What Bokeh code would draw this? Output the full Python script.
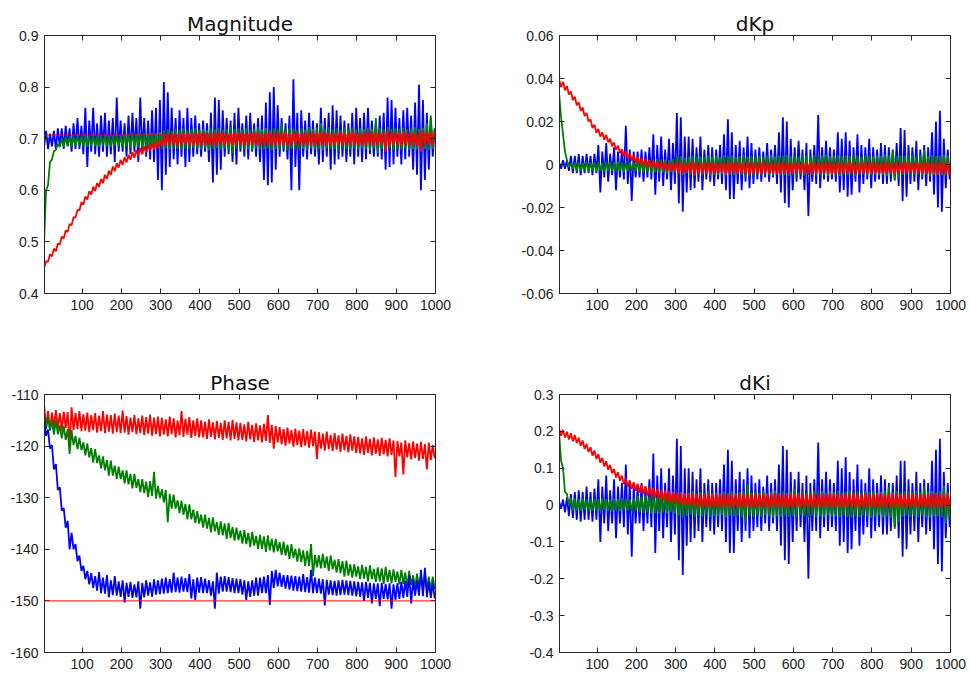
import numpy as np
from bokeh.plotting import figure
from bokeh.layouts import column, row
from bokeh.models import Range1d, FixedTicker, CustomJSTickFormatter, LinearAxis, Span
from bokeh.embed import file_html
from bokeh.resources import INLINE

# Each series is read off the picture as the two extreme values inside each
# window of 10 samples (100 windows spanning samples 0..1000).
WINDOW = 10
x_ticks = [100, 200, 300, 400, 500, 600, 700, 800, 900, 1000]

# ---------------- Magnitude ----------------
mag_blue_lo = [.685,.680,.685,.680,.685,.680,.685,.675,.680,.680,
               .670,.645,.675,.670,.665,.675,.665,.670,.655,.675,
               .675,.665,.670,.675,.655,.670,.665,.660,.655,.620,
               .600,.630,.645,.660,.650,.665,.645,.655,.665,.670,
               .665,.675,.655,.615,.630,.640,.665,.670,.655,.650,
               .675,.665,.660,.675,.665,.655,.620,.610,.615,.640,
               .665,.675,.660,.600,.645,.600,.665,.660,.670,.665,
               .650,.655,.665,.640,.650,.660,.665,.655,.665,.650,
               .665,.655,.660,.670,.665,.665,.660,.640,.645,.650,
               .665,.650,.660,.665,.640,.630,.600,.620,.640,.665]
mag_blue_hi = [.715,.710,.715,.720,.720,.725,.720,.730,.740,.725,
               .760,.735,.760,.730,.745,.750,.735,.740,.780,.735,
               .730,.745,.750,.740,.780,.740,.735,.755,.760,.775,
               .810,.790,.760,.740,.755,.740,.760,.740,.745,.730,
               .735,.730,.750,.780,.775,.755,.740,.735,.750,.760,
               .730,.745,.750,.730,.740,.745,.770,.790,.800,.765,
               .740,.730,.745,.815,.750,.755,.735,.750,.735,.730,
               .760,.740,.750,.765,.755,.745,.735,.730,.750,.760,
               .740,.750,.760,.735,.730,.745,.750,.780,.775,.760,
               .740,.755,.760,.745,.770,.805,.775,.750,.740,.720]
mag_green_lo = [.500,.610,.660,.678,.684,.685,.686,.684,.686,.685,
                .685,.684,.686,.685,.684,.686,.685,.684,.686,.685,
                .683,.684,.682,.684,.683,.682,.684,.682,.683,.681,
                .680,.682,.679,.681,.680,.678,.681,.679,.682,.680,
                .679,.681,.678,.680,.682,.679,.681,.678,.672,.680,
                .681,.679,.680,.678,.681,.680,.679,.681,.678,.680,
                .679,.681,.678,.680,.679,.681,.680,.678,.681,.679,
                .680,.678,.681,.679,.680,.678,.681,.680,.679,.681,
                .679,.681,.680,.678,.681,.672,.680,.679,.681,.678,
                .680,.679,.681,.678,.680,.679,.681,.680,.678,.680]
mag_green_hi = [.600,.655,.676,.690,.700,.703,.705,.704,.706,.705,
                .706,.705,.707,.705,.706,.707,.705,.706,.707,.706,
                .710,.709,.711,.710,.712,.711,.710,.712,.711,.713,
                .716,.718,.715,.719,.717,.720,.716,.718,.721,.717,
                .719,.716,.720,.718,.721,.717,.719,.722,.718,.720,
                .718,.721,.717,.719,.722,.718,.720,.717,.721,.719,
                .730,.718,.721,.719,.717,.720,.718,.722,.719,.721,
                .730,.719,.722,.718,.720,.717,.721,.719,.722,.718,
                .720,.718,.721,.719,.740,.720,.718,.722,.719,.721,
                .719,.721,.718,.720,.722,.719,.721,.730,.745,.720]
mag_red_lo = [.450,.462,.472,.482,.495,.507,.519,.532,.547,.561,
              .572,.582,.592,.599,.607,.614,.622,.630,.637,.644,
              .649,.654,.659,.663,.667,.670,.673,.676,.679,.682,
              .686,.688,.687,.689,.686,.688,.690,.687,.689,.686,
              .688,.687,.689,.686,.688,.690,.687,.689,.688,.686,
              .689,.687,.688,.690,.686,.688,.687,.689,.686,.688,
              .687,.689,.686,.688,.690,.687,.689,.686,.688,.687,
              .689,.686,.688,.687,.689,.688,.686,.690,.687,.689,
              .686,.688,.687,.689,.686,.688,.690,.675,.687,.689,
              .688,.686,.689,.687,.688,.686,.675,.689,.687,.688]
mag_red_hi = [.462,.476,.487,.497,.510,.522,.535,.548,.562,.577,
              .588,.598,.607,.614,.622,.630,.638,.646,.652,.659,
              .664,.669,.674,.678,.682,.685,.688,.691,.694,.697,
              .705,.708,.710,.707,.711,.709,.712,.708,.710,.713,
              .709,.711,.708,.712,.710,.713,.709,.711,.714,.710,
              .712,.709,.713,.710,.712,.708,.711,.713,.709,.712,
              .710,.713,.709,.711,.714,.710,.712,.709,.713,.711,
              .713,.710,.712,.709,.711,.714,.710,.712,.715,.711,
              .710,.712,.714,.711,.713,.710,.712,.715,.711,.713,
              .712,.714,.711,.713,.710,.712,.716,.711,.714,.712]
mag_reference = 0.707
mag_y_ticks = [0.4, 0.5, 0.6, 0.7, 0.8, 0.9]

# ---------------- Phase ----------------
phase_red_hi = [-112.0,-113.2,-113.5,-113.0,-113.6,-113.3,-113.4,-112.5,-113.6,-113.2,
                -113.8,-113.5,-114.0,-113.6,-114.1,-113.2,-113.9,-114.0,-113.7,-114.1,
                -113.1,-114.2,-114.5,-114.0,-114.6,-114.1,-114.4,-113.9,-114.5,-114.3,
                -114.5,-114.8,-114.3,-114.6,-115.0,-113.2,-114.7,-114.4,-115.0,-114.6,
                -115.0,-115.3,-114.8,-115.4,-115.1,-115.5,-115.0,-115.3,-114.9,-115.4,
                -115.5,-115.8,-115.3,-115.9,-115.6,-116.0,-115.7,-114.0,-115.9,-116.1,
                -116.3,-116.7,-116.4,-116.9,-116.6,-117.0,-116.7,-117.1,-116.8,-117.2,
                -117.3,-117.6,-117.2,-117.8,-117.5,-117.9,-117.6,-118.0,-117.7,-118.1,
                -118.2,-118.5,-118.1,-118.6,-118.3,-118.7,-118.4,-118.8,-118.5,-118.9,
                -119.0,-119.3,-118.9,-119.4,-119.1,-119.5,-119.2,-119.6,-119.3,-119.8]
phase_red_lo = [-116.3,-116.8,-116.5,-116.6,-117.0,-116.5,-120.0,-116.9,-116.7,-117.1,
                -117.0,-117.3,-116.9,-117.4,-117.1,-117.5,-117.2,-117.6,-117.3,-117.5,
                -117.4,-117.8,-117.3,-117.7,-117.5,-117.9,-117.6,-118.0,-117.7,-118.1,
                -117.8,-118.1,-117.7,-118.3,-117.9,-118.2,-117.8,-118.4,-118.0,-118.3,
                -118.3,-118.6,-118.2,-118.7,-118.4,-118.8,-118.5,-118.9,-118.6,-118.9,
                -118.8,-119.1,-118.7,-119.2,-118.9,-119.3,-119.0,-119.4,-120.5,-119.3,
                -119.6,-119.9,-119.5,-120.1,-119.8,-120.2,-119.9,-120.3,-120.0,-122.5,
                -120.5,-120.9,-120.6,-121.0,-120.7,-121.1,-120.8,-121.2,-120.9,-121.3,
                -121.4,-121.7,-121.3,-121.8,-121.5,-121.9,-121.6,-122.0,-121.7,-126.0,
                -122.0,-125.5,-122.2,-122.6,-122.3,-122.8,-122.5,-124.5,-122.7,-122.4]
phase_green_hi = [-114.2,-114.3,-115.0,-115.0,-116.0,-116.1,-116.7,-116.9,-118.0,-118.4,
                  -119.3,-119.5,-120.4,-120.6,-121.8,-122.0,-122.7,-122.8,-123.8,-124.0,
                  -124.7,-124.7,-125.4,-125.4,-126.4,-126.4,-126.9,-126.8,-125.0,-127.7,
                  -128.4,-128.5,-129.3,-129.4,-130.5,-130.6,-131.2,-131.3,-132.3,-132.6,
                  -133.3,-133.3,-133.9,-133.8,-134.7,-134.6,-135.0,-134.9,-135.7,-135.8,
                  -136.4,-136.3,-136.8,-136.6,-137.4,-137.2,-137.5,-137.3,-138.0,-138.0,
                  -138.6,-138.5,-139.1,-139.0,-139.9,-139.8,-140.2,-140.3,-139.0,-141.1,
                  -141.2,-140.9,-141.4,-141.2,-142.0,-141.9,-142.3,-142.2,-142.9,-142.9,
                  -143.3,-143.0,-143.4,-143.1,-143.8,-143.5,-143.7,-143.4,-144.0,-143.9,
                  -144.3,-144.0,-144.5,-144.2,-145.0,-144.7,-145.0,-144.7,-145.3,-145.3]
phase_green_lo = [-116.7,-117.0,-117.8,-117.7,-118.5,-118.8,-121.5,-119.8,-120.6,-120.8,
                  -121.8,-122.2,-123.2,-123.3,-124.3,-124.7,-125.7,-125.7,-126.4,-126.4,
                  -127.2,-127.4,-128.2,-128.1,-128.9,-129.1,-129.9,-129.7,-130.2,-130.1,
                  -130.9,-134.8,-132.1,-132.1,-133.0,-133.3,-134.2,-134.2,-134.9,-135.0,
                  -135.8,-136.0,-136.7,-136.5,-137.2,-137.3,-138.0,-137.8,-138.3,-138.2,
                  -138.9,-139.0,-139.6,-139.3,-139.9,-139.9,-140.5,-140.2,-140.6,-140.4,
                  -141.1,-141.2,-141.9,-141.7,-142.4,-142.5,-143.2,-143.2,-145.2,-143.5,
                  -143.7,-143.6,-144.2,-143.9,-144.5,-144.6,-145.3,-145.1,-145.5,-145.3,
                  -145.8,-145.7,-146.2,-145.8,-146.3,-146.2,-146.7,-146.3,-146.6,-146.3,
                  -146.8,-146.7,-147.3,-146.9,-147.5,-147.4,-148.0,-147.6,-147.9,-147.7]
phase_blue_hi = [-114.5,-116.8,-119.8,-123.5,-128.0,-132.0,-134.5,-136.8,-139.0,-141.2,
                 -143.2,-144.2,-144.6,-145.2,-144.4,-145.5,-145.0,-146.0,-145.2,-146.2,
                 -146.0,-146.5,-146.3,-146.8,-146.2,-146.5,-146.0,-146.4,-145.8,-146.0,
                 -145.7,-145.5,-145.8,-144.5,-145.5,-145.3,-145.6,-144.8,-145.8,-145.5,
                 -145.4,-145.7,-146.0,-146.2,-144.5,-145.3,-145.2,-145.4,-145.6,-145.7,
                 -145.8,-146.0,-146.2,-146.0,-145.5,-145.5,-145.3,-145.0,-144.2,-144.0,
                 -144.5,-145.0,-145.0,-145.1,-145.2,-145.3,-144.8,-145.4,-144.0,-145.5,
                 -145.7,-145.8,-145.9,-146.0,-146.1,-146.0,-145.9,-146.0,-146.1,-146.2,
                 -146.3,-146.4,-146.3,-146.5,-146.6,-146.6,-146.5,-146.7,-146.6,-146.8,
                 -146.6,-146.3,-146.1,-145.0,-145.9,-146.0,-144.0,-143.6,-146.3,-146.5]
phase_blue_lo = [-118.0,-120.5,-124.5,-128.5,-132.5,-135.8,-140.0,-140.0,-142.3,-144.2,
                 -145.8,-146.8,-147.5,-148.0,-148.5,-148.6,-149.3,-148.9,-149.0,-149.2,
                 -150.3,-149.2,-149.4,-149.3,-151.5,-149.3,-149.0,-149.2,-148.8,-148.7,
                 -148.6,-148.5,-148.4,-148.3,-148.4,-148.2,-148.3,-149.5,-149.8,-148.4,
                 -148.5,-148.5,-149.0,-151.5,-148.6,-148.2,-148.2,-148.3,-148.5,-148.5,
                 -148.8,-149.8,-149.2,-149.0,-149.0,-148.5,-148.5,-150.8,-147.5,-147.2,
                 -147.3,-147.6,-147.8,-148.0,-148.1,-148.2,-148.3,-148.4,-148.5,-148.5,
                 -148.6,-150.9,-148.8,-148.9,-149.0,-148.9,-148.8,-148.9,-149.0,-149.1,
                 -149.2,-150.0,-149.4,-150.5,-149.6,-151.0,-149.6,-149.7,-151.5,-149.8,
                 -149.6,-149.4,-149.2,-150.5,-149.0,-149.0,-149.1,-149.3,-149.4,-149.5]
phase_reference = -150
phase_y_ticks = [-160, -150, -140, -130, -120, -110]

# ---------------- dKp ----------------
dkp_blue_hi = [.001,.002,.002,.004,.004,.005,.004,.005,.004,.005,
               .009,.006,.010,.005,.008,.006,.007,.018,.007,.006,
               .006,.007,.006,.008,.014,.009,.013,.007,.012,.010,
               .024,.022,.013,.013,.012,.008,.013,.007,.009,.008,
               .007,.009,.014,.021,.015,.009,.011,.008,.013,.010,
               .007,.008,.006,.010,.007,.009,.015,.022,.020,.012,
               .008,.011,.007,.010,.007,.009,.023,.008,.011,.008,
               .007,.015,.012,.015,.011,.008,.014,.009,.008,.012,
               .008,.007,.010,.009,.008,.007,.010,.017,.016,.009,
               .008,.011,.007,.009,.008,.015,.020,.025,.012,.007]
dkp_blue_lo = [-.002,-.002,-.003,-.004,-.004,-.005,-.004,-.004,-.005,-.004,
               -.013,-.006,-.008,-.005,-.012,-.006,-.007,-.009,-.017,-.006,
               -.006,-.008,-.006,-.007,-.014,-.008,-.010,-.007,-.012,-.009,
               -.018,-.022,-.013,-.012,-.011,-.008,-.012,-.007,-.008,-.010,
               -.007,-.009,-.012,-.016,-.016,-.009,-.012,-.008,-.011,-.009,
               -.007,-.008,-.006,-.008,-.006,-.009,-.013,-.018,-.020,-.012,
               -.008,-.007,-.012,-.024,-.008,-.009,-.011,-.007,-.008,-.007,
               -.008,-.013,-.012,-.015,-.014,-.008,-.013,-.009,-.007,-.011,
               -.008,-.007,-.009,-.009,-.008,-.007,-.010,-.017,-.015,-.009,
               -.008,-.012,-.007,-.010,-.008,-.014,-.020,-.022,-.011,-.007]
dkp_green_hi = [.033,.014,.002,.0005,.0010,.0012,.0008,.0013,.0010,.0009,
                .0011,.0008,.0012,.0010,.0009,.0013,.0011,.0008,.0012,.0010,
                .0020,.0018,.0022,.0019,.0021,.0025,.0020,.0023,.0019,.0024,
                .0035,.0040,.0032,.0038,.0042,.0036,.0039,.0034,.0041,.0037,
                .0040,.0036,.0043,.0038,.0041,.0035,.0039,.0044,.0037,.0042,
                .0038,.0042,.0036,.0040,.0043,.0037,.0041,.0039,.0045,.0038,
                .0042,.0038,.0044,.0040,.0037,.0043,.0039,.0041,.0045,.0038,
                .0040,.0044,.0038,.0042,.0039,.0045,.0041,.0037,.0043,.0040,
                .0038,.0042,.0040,.0045,.0041,.0068,.0039,.0043,.0040,.0044,
                .0041,.0038,.0043,.0070,.0040,.0044,.0039,.0042,.0045,.0041]
dkp_green_lo = [.022,.006,-.001,-.002,-.0030,-.0032,-.0028,-.0035,-.0030,-.0033,
                -.0029,-.0034,-.0031,-.0028,-.0033,-.0030,-.0035,-.0031,-.0029,-.0032,
                -.0035,-.0038,-.0034,-.0040,-.0036,-.0039,-.0037,-.0041,-.0035,-.0038,
                -.0045,-.0050,-.0043,-.0048,-.0052,-.0046,-.0049,-.0044,-.0051,-.0047,
                -.0048,-.0045,-.0051,-.0047,-.0050,-.0044,-.0049,-.0060,-.0046,-.0050,
                -.0047,-.0051,-.0045,-.0049,-.0052,-.0046,-.0050,-.0048,-.0053,-.0047,
                -.0050,-.0046,-.0052,-.0048,-.0045,-.0051,-.0047,-.0049,-.0053,-.0046,
                -.0049,-.0053,-.0047,-.0050,-.0046,-.0052,-.0048,-.0045,-.0051,-.0049,
                -.0047,-.0051,-.0049,-.0053,-.0048,-.0075,-.0060,-.0050,-.0047,-.0052,
                -.0050,-.0046,-.0051,-.0048,-.0053,-.0049,-.0047,-.0050,-.0052,-.0048]
dkp_red_hi = [.0395,.0385,.0365,.0340,.0315,.0290,.0265,.0240,.0210,.0185,
              .0165,.0150,.0138,.0120,.0103,.0088,.0072,.0062,.0052,.0044,
              .0036,.0030,.0025,.0021,.0018,.0014,.0011,.0009,.0008,.0007,
              .0008,.0012,.0006,.0010,.0014,.0007,.0011,.0005,.0013,.0009,
              .0010,.0006,.0012,.0008,.0015,.0009,.0011,.0006,.0013,.0008,
              .0011,.0007,.0013,.0009,.0006,.0012,.0008,.0014,.0010,.0007,
              .0012,.0008,.0010,.0006,.0013,.0009,.0011,.0007,.0014,.0010,
              .0008,.0012,.0007,.0011,.0015,.0009,.0006,.0012,.0010,.0013,
              .0009,.0011,.0007,.0013,.0010,.0006,.0012,.0008,.0014,.0011,
              .0007,.0012,.0009,.0013,.0008,.0011,.0006,.0014,.0010,.0012]
dkp_red_lo = [.0360,.0345,.0325,.0300,.0275,.0250,.0225,.0200,.0170,.0148,
              .0130,.0115,.0103,.0085,.0068,.0053,.0040,.0028,.0018,.0010,
              .0004,-.0004,-.0009,-.0013,-.0017,-.0021,-.0025,-.0028,-.0031,-.0033,
              -.0040,-.0045,-.0038,-.0042,-.0048,-.0040,-.0044,-.0039,-.0046,-.0041,
              -.0043,-.0038,-.0047,-.0042,-.0040,-.0045,-.0039,-.0044,-.0050,-.0041,
              -.0042,-.0046,-.0040,-.0044,-.0039,-.0047,-.0043,-.0041,-.0045,-.0040,
              -.0044,-.0039,-.0046,-.0042,-.0048,-.0041,-.0045,-.0040,-.0043,-.0047,
              -.0041,-.0045,-.0040,-.0044,-.0039,-.0046,-.0042,-.0040,-.0045,-.0043,
              -.0040,-.0046,-.0041,-.0044,-.0039,-.0047,-.0042,-.0045,-.0040,-.0044,
              -.0043,-.0040,-.0046,-.0041,-.0045,-.0040,-.0048,-.0042,-.0044,-.0050]
dkp_y_ticks = [-0.06, -0.04, -0.02, 0, 0.02, 0.04, 0.06]

# ---------------- dKi ----------------
dki_blue_hi = [.01,.015,.02,.03,.035,.04,.035,.05,.035,.045,
               .07,.05,.08,.04,.07,.05,.06,.11,.06,.05,
               .05,.06,.05,.07,.14,.08,.10,.06,.10,.08,
               .18,.16,.10,.10,.09,.07,.10,.06,.07,.06,
               .06,.07,.11,.15,.12,.07,.09,.07,.10,.08,
               .06,.07,.05,.08,.06,.07,.11,.16,.15,.09,
               .07,.09,.06,.08,.06,.07,.17,.07,.09,.07,
               .06,.12,.10,.13,.09,.07,.11,.07,.06,.10,
               .07,.06,.08,.07,.06,.06,.08,.12,.12,.07,
               .06,.09,.06,.07,.06,.12,.15,.18,.09,.06]
dki_blue_lo = [-.01,-.02,-.03,-.035,-.04,-.045,-.04,-.04,-.045,-.04,
               -.10,-.05,-.07,-.05,-.09,-.05,-.06,-.08,-.14,-.05,
               -.05,-.07,-.05,-.06,-.13,-.07,-.09,-.06,-.10,-.08,
               -.15,-.19,-.11,-.10,-.09,-.07,-.10,-.06,-.07,-.08,
               -.06,-.07,-.10,-.13,-.13,-.07,-.10,-.07,-.09,-.07,
               -.06,-.07,-.05,-.07,-.05,-.07,-.11,-.15,-.16,-.10,
               -.07,-.06,-.10,-.20,-.07,-.07,-.09,-.06,-.07,-.06,
               -.07,-.11,-.10,-.13,-.12,-.07,-.11,-.08,-.06,-.09,
               -.07,-.06,-.08,-.08,-.07,-.06,-.09,-.14,-.12,-.08,
               -.07,-.10,-.06,-.08,-.07,-.12,-.16,-.18,-.09,-.06]
dki_green_hi = [.195,.10,.03,.02,.018,.016,.019,.015,.017,.018,
                .016,.019,.017,.015,.018,.016,.019,.017,.015,.018,
                .024,.022,.026,.023,.025,.021,.027,.024,.022,.026,
                .032,.036,.030,.034,.038,.031,.035,.033,.037,.032,
                .034,.031,.036,.033,.037,.032,.035,.038,.057,.034,
                .036,.033,.038,.032,.035,.039,.034,.037,.033,.036,
                .045,.034,.037,.033,.036,.039,.035,.038,.034,.037,
                .035,.038,.033,.036,.040,.034,.037,.033,.039,.035,
                .037,.033,.036,.039,.050,.035,.038,.034,.037,.036,
                .034,.038,.035,.050,.036,.039,.034,.037,.052,.035]
dki_green_lo = [.12,.035,.00,-.015,-.014,-.016,-.013,-.017,-.015,-.014,
                -.016,-.013,-.015,-.017,-.014,-.016,-.013,-.015,-.017,-.014,
                -.020,-.022,-.019,-.023,-.021,-.024,-.020,-.022,-.019,-.023,
                -.028,-.034,-.030,-.027,-.033,-.029,-.031,-.026,-.032,-.030,
                -.030,-.027,-.033,-.029,-.031,-.028,-.034,-.045,-.030,-.032,
                -.029,-.033,-.028,-.031,-.034,-.030,-.032,-.029,-.033,-.031,
                -.032,-.028,-.031,-.034,-.029,-.033,-.030,-.032,-.028,-.031,
                -.030,-.033,-.029,-.032,-.035,-.030,-.033,-.029,-.031,-.034,
                -.031,-.029,-.033,-.030,-.034,-.065,-.045,-.031,-.029,-.033,
                -.030,-.033,-.029,-.032,-.034,-.031,-.030,-.033,-.050,-.031]
dki_red_hi = [.207,.204,.199,.195,.190,.183,.175,.166,.157,.148,
              .138,.128,.119,.109,.098,.089,.080,.072,.067,.062,
              .058,.055,.051,.048,.047,.044,.041,.040,.037,.036,
              .034,.033,.032,.031,.032,.030,.031,.030,.029,.030,
              .030,.028,.032,.029,.031,.027,.033,.030,.028,.031,
              .029,.032,.028,.031,.030,.033,.028,.031,.029,.032,
              .031,.028,.033,.029,.030,.032,.028,.031,.029,.033,
              .030,.032,.028,.031,.029,.033,.030,.028,.032,.030,
              .029,.031,.033,.028,.030,.032,.029,.031,.028,.033,
              .031,.029,.032,.030,.028,.033,.030,.031,.029,.032]
dki_red_lo = [.188,.183,.178,.173,.168,.161,.152,.144,.134,.125,
              .115,.105,.096,.086,.075,.066,.057,.049,.044,.039,
              .034,.030,.026,.023,.020,.017,.013,.011,.008,.006,
              .003,.001,-.001,-.002,-.003,-.004,-.004,-.005,-.005,-.006,
              -.005,-.007,-.004,-.006,-.008,-.005,-.007,-.004,-.006,-.005,
              -.007,-.005,-.006,-.008,-.004,-.006,-.007,-.005,-.008,-.006,
              -.005,-.007,-.006,-.004,-.008,-.006,-.005,-.007,-.004,-.006,
              -.006,-.004,-.007,-.005,-.006,-.008,-.005,-.007,-.006,-.004,
              -.007,-.005,-.006,-.008,-.005,-.007,-.004,-.006,-.008,-.005,
              -.005,-.007,-.004,-.006,-.007,-.005,-.008,-.006,-.005,-.007]
dki_y_ticks = [-0.4, -0.3, -0.2, -0.1, 0, 0.1, 0.2, 0.3]

BLUE, GREEN, RED = "#0000ff", "#008000", "#ff0000"
FRAME = "#262626"
TICK_FONT = "Liberation Sans"

fmt_code = "return String(Number(tick.toFixed(6)));"


def style_axis(ax, ticks, show_labels=True):
    ax.ticker = FixedTicker(ticks=ticks)
    ax.major_tick_in = 5
    ax.major_tick_out = 0
    ax.minor_tick_line_color = None
    ax.axis_line_color = FRAME
    ax.major_tick_line_color = FRAME
    if show_labels:
        ax.formatter = CustomJSTickFormatter(code=fmt_code)
        ax.major_label_text_font = TICK_FONT
        ax.major_label_text_font_size = "14px"
        ax.major_label_text_color = "#222222"
        ax.major_label_standoff = 6
    else:
        ax.major_label_text_font_size = "0px"
        ax.major_label_text_color = None
        ax.major_label_standoff = 6


def panel(title, y_lo, y_hi, y_ticks, b_left, b_right, b_top, b_bottom):
    p = figure(width=485, height=339, output_backend="svg", toolbar_location=None,
               x_range=Range1d(4, 1000), y_range=Range1d(y_lo, y_hi),
               min_border_left=b_left, min_border_right=b_right,
               min_border_top=b_top, min_border_bottom=b_bottom)
    p.title.text = title
    p.title.align = "center"
    p.title.text_font = "DejaVu Sans"
    p.title.text_font_size = "20px"
    p.title.text_font_style = "normal"
    p.title.text_color = "#111111"
    p.title.standoff = 0
    p.xgrid.visible = False
    p.ygrid.visible = False
    p.outline_line_color = FRAME
    p.outline_line_alpha = 1
    style_axis(p.xaxis[0], x_ticks)
    style_axis(p.yaxis[0], y_ticks)
    top = LinearAxis()
    style_axis(top, x_ticks, show_labels=False)
    p.add_layout(top, "above")
    right = LinearAxis()
    style_axis(right, y_ticks, show_labels=False)
    p.add_layout(right, "right")
    return p


def draw(p, first, second, color):
    # the trace swings between the two extremes read in each window
    xs, ys = [], []
    for i, (a, b) in enumerate(zip(first, second)):
        xs += [i * WINDOW + 3, i * WINDOW + 8]
        ys += [a, b]
    p.line(xs, ys, line_color=color, line_width=1.8)


p1 = panel("Magnitude", 0.4, 0.9, mag_y_ticks, 44, 50, 35, 46)
draw(p1, mag_blue_lo, mag_blue_hi, BLUE)
draw(p1, mag_green_lo, mag_green_hi, GREEN)
draw(p1, mag_red_lo, mag_red_hi, RED)
p1.add_layout(Span(location=mag_reference, dimension="width", line_color=RED, line_width=1))

p2 = panel("dKp", -0.06, 0.06, dkp_y_ticks, 74, 20, 35, 46)
draw(p2, dkp_blue_hi, dkp_blue_lo, BLUE)
draw(p2, dkp_green_hi, dkp_green_lo, GREEN)
draw(p2, dkp_red_hi, dkp_red_lo, RED)

p3 = panel("Phase", -160, -110, phase_y_ticks, 44, 50, 55, 26)
draw(p3, phase_red_hi, phase_red_lo, RED)
draw(p3, phase_green_hi, phase_green_lo, GREEN)
draw(p3, phase_blue_hi, phase_blue_lo, BLUE)
p3.add_layout(Span(location=phase_reference, dimension="width", line_color=RED, line_width=1))

p4 = panel("dKi", -0.4, 0.3, dki_y_ticks, 74, 20, 55, 26)
draw(p4, dki_blue_hi, dki_blue_lo, BLUE)
draw(p4, dki_green_hi, dki_green_lo, GREEN)
draw(p4, dki_red_hi, dki_red_lo, RED)

layout = column(row(p1, p2), row(p3, p4))
open("out.html", "w").write(file_html(layout, INLINE))
